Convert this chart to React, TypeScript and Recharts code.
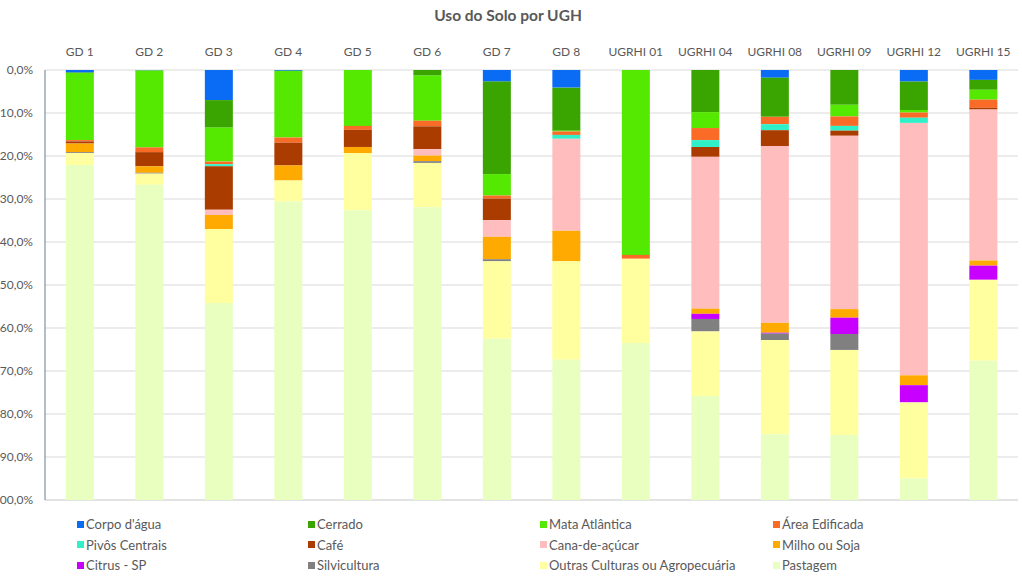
import { BarChart, Bar, XAxis, YAxis, CartesianGrid, Legend } from 'recharts';

const categories = ['GD 1', 'GD 2', 'GD 3', 'GD 4', 'GD 5', 'GD 6', 'GD 7', 'GD 8', 'UGRHI 01', 'UGRHI 04', 'UGRHI 08', 'UGRHI 09', 'UGRHI 12', 'UGRHI 15'];

const corpoAgua = [0.6, 0.1, 7.0, 0.2, 0, 0, 2.7, 4.1, 0, 0, 1.8, 0, 2.7, 2.3];
const cerrado = [0.1, 0, 6.4, 0, 0, 1.3, 21.5, 10.0, 0, 9.8, 9.1, 8.1, 6.6, 2.3];
const mataAtlantica = [15.6, 17.9, 7.9, 15.5, 13.0, 10.5, 5.0, 0.2, 43.0, 3.7, 0, 2.7, 0.6, 2.3];
const areaEdificada = [0.3, 1.1, 0.6, 1.2, 0.9, 1.3, 0.7, 0.8, 0.9, 2.8, 1.7, 2.2, 1.2, 1.9];
const pivos = [0, 0, 0.5, 0, 0, 0, 0, 0.9, 0, 1.6, 1.4, 1.1, 1.2, 0];
const cafe = [0.5, 3.3, 10.1, 5.3, 4.0, 5.3, 5.0, 0, 0, 2.3, 3.7, 1.2, 0, 0.4];
const cana = [0, 0, 1.2, 0, 0, 1.5, 3.9, 21.4, 0, 35.3, 41.1, 40.3, 58.7, 35.1];
const milhoSoja = [2.0, 1.5, 3.3, 3.5, 1.4, 1.3, 5.2, 7.1, 0, 1.2, 2.3, 2.0, 2.3, 1.2];
const citrus = [0, 0, 0, 0, 0, 0, 0, 0, 0, 1.2, 0.2, 3.8, 4.0, 3.3];
const silvicultura = [0.2, 0.2, 0, 0, 0, 0.4, 0.5, 0, 0, 2.9, 1.5, 3.7, 0, 0];
const outras = [2.8, 2.6, 17.2, 4.9, 13.3, 10.3, 18.0, 22.9, 19.6, 15.0, 21.9, 19.8, 17.7, 18.8];
const pastagem = [77.9, 73.3, 45.8, 69.4, 67.4, 68.1, 37.5, 32.6, 36.5, 24.2, 15.3, 15.1, 5.0, 32.4];

const yTicks = [0, 10, 20, 30, 40, 50, 60, 70, 80, 90, 100];

const series = [
  { key: 'corpo', name: "Corpo d'água", color: '#0a6cf5', values: corpoAgua },
  { key: 'cerrado', name: 'Cerrado', color: '#3aa500', values: cerrado },
  { key: 'mata', name: 'Mata Atlântica', color: '#55e800', values: mataAtlantica },
  { key: 'area', name: 'Área Edificada', color: '#fa6b28', values: areaEdificada },
  { key: 'pivos', name: 'Pivôs Centrais', color: '#30f0c8', values: pivos },
  { key: 'cafe', name: 'Café', color: '#aa3c00', values: cafe },
  { key: 'cana', name: 'Cana-de-açúcar', color: '#ffbdbd', values: cana },
  { key: 'milho', name: 'Milho ou Soja', color: '#ffaa00', values: milhoSoja },
  { key: 'citrus', name: 'Citrus - SP', color: '#c800ff', values: citrus },
  { key: 'silvi', name: 'Silvicultura', color: '#808080', values: silvicultura },
  { key: 'outras', name: 'Outras Culturas ou Agropecuária', color: '#ffffa0', values: outras },
  { key: 'pastagem', name: 'Pastagem', color: '#e8ffc0', values: pastagem },
];

const data = categories.map((c, i) => {
  const row: Record<string, string | number> = { name: c };
  series.forEach(s => { row[s.key] = s.values[i]; });
  return row;
});

const FONT = 'Lato, "Open Sans", sans-serif';
const LEGEND_COLS = [77, 308, 540, 773];

const renderLegend = () => (
  <div style={{ position: 'relative', width: 1022, height: 64, fontFamily: FONT, fontSize: 13, color: '#595959' }}>
    {series.map((s, i) => (
      <div key={s.key} style={{ position: 'absolute', left: LEGEND_COLS[i % 4], top: Math.floor(i / 4) * 20.5, display: 'flex', alignItems: 'center', whiteSpace: 'nowrap', lineHeight: '16px' }}>
        <span style={{ display: 'inline-block', width: 7, height: 7, background: s.color, marginRight: 2 }} />
        {s.name}
      </div>
    ))}
  </div>
);

export default function App() {
  return (
    <div style={{ position: 'absolute', left: 0, top: 0, width: 1022, height: 580, background: '#fff', fontFamily: FONT }}>
      <div style={{ position: 'absolute', top: 6, left: 0, width: 1016, textAlign: 'center', fontSize: 15.5, fontWeight: 700, color: '#595959' }}>
        Uso do Solo por UGH
      </div>
      <BarChart width={1022} height={580} data={data} barCategoryGap="30%" margin={{ top: 40, right: 4, bottom: 16, left: 0 }}>
        <CartesianGrid vertical={false} stroke="#d9d9d9" />
        <XAxis dataKey="name" orientation="top" height={30} axisLine={false} tickLine={false} tickSize={6} tickMargin={8}
          tick={{ fontSize: 12, fill: '#595959', fontFamily: FONT }} interval={0} />
        <YAxis reversed domain={[0, 100]} ticks={yTicks} width={45} tickLine={false} tickSize={6} tickMargin={6}
          axisLine={{ stroke: '#6b7b93' }} tick={{ fontSize: 12, fill: '#595959', fontFamily: FONT }}
          tickFormatter={(v: number) => v.toFixed(1).replace('.', ',') + '%'} />
        <Legend verticalAlign="bottom" content={renderLegend} wrapperStyle={{ left: 0, top: 516, width: 1022 }} />
        {series.map(s => (
          <Bar key={s.key} dataKey={s.key} name={s.name} stackId="a" fill={s.color} isAnimationActive={false} />
        ))}
      </BarChart>
    </div>
  );
}
